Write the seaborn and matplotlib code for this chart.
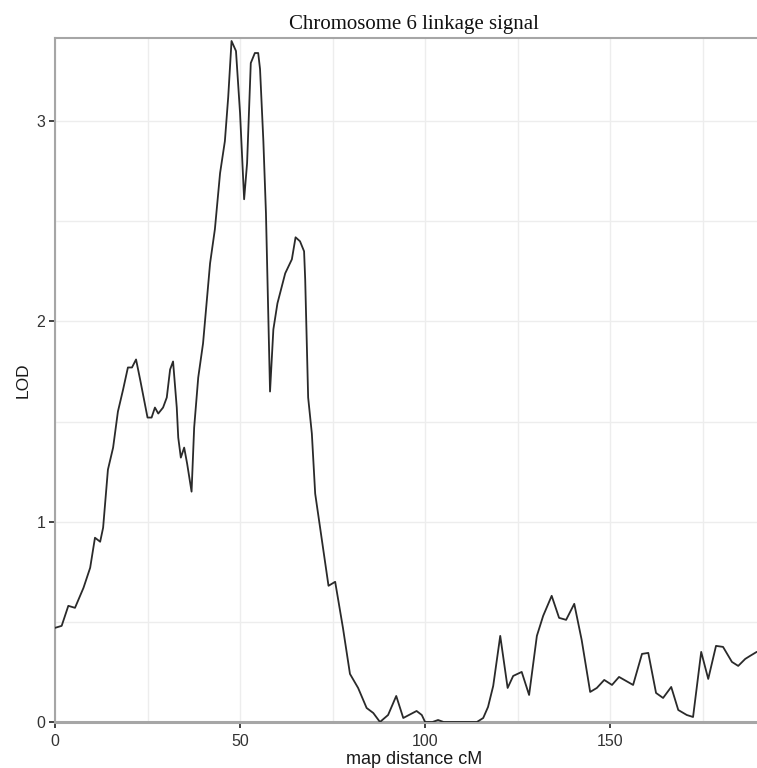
import numpy as np
import pandas as pd
import matplotlib
matplotlib.use("Agg")
import matplotlib.pyplot as plt
from matplotlib.ticker import MultipleLocator
import seaborn as sns

# LOD profile, position in cM
pos = [0, 1.8, 3.6, 5.4, 7.7, 9.5, 10.8, 12.2, 13.0, 14.3,
       15.7, 17.0, 18.4, 19.7, 20.8, 21.9, 23.0, 25.0, 26.1, 27.0,
       27.9, 29.2, 30.2, 31.1, 31.9, 32.9, 33.3, 34.0, 34.9, 35.7,
       36.9, 37.6, 38.7, 40.0, 41.9, 43.2, 44.6, 45.9, 46.8, 47.7,
       48.9, 50.0, 51.1, 51.9, 52.9, 54.0, 54.9, 55.4, 56.3, 57.0,
       58.1, 59.0, 60.1, 62.2, 64.0, 65.0, 66.2, 67.3, 67.6, 68.4,
       69.4, 70.3, 72.1, 73.9, 75.7, 77.8, 79.7, 81.9, 84.2, 86.0,
       87.8, 90.0, 92.2, 94.1, 97.7, 99.1, 100.0, 102.0, 103.5, 105.0,
       114.0, 115.7, 117.0, 118.4, 120.3, 122.3, 123.8, 126.1, 128.1, 130.2,
       131.9, 134.2, 136.2, 138.1, 140.3, 142.3, 144.6, 146.4, 148.4, 150.5,
       152.4, 156.2, 158.6, 160.3, 162.4, 164.3, 166.5, 168.4, 170.7, 172.4,
       174.6, 176.5, 178.6, 180.5, 182.9, 184.6, 186.5, 187.8, 189.6]
lod = [0.47, 0.48, 0.58, 0.57, 0.67, 0.77, 0.92, 0.90, 0.97, 1.26,
       1.37, 1.55, 1.66, 1.77, 1.77, 1.81, 1.71, 1.52, 1.52, 1.57,
       1.54, 1.57, 1.62, 1.76, 1.80, 1.57, 1.42, 1.32, 1.37, 1.29,
       1.15, 1.47, 1.72, 1.89, 2.29, 2.46, 2.74, 2.90, 3.12, 3.40,
       3.35, 3.04, 2.61, 2.79, 3.29, 3.34, 3.34, 3.26, 2.90, 2.54,
       1.65, 1.96, 2.09, 2.24, 2.31, 2.42, 2.40, 2.35, 2.21, 1.62,
       1.44, 1.14, 0.91, 0.68, 0.70, 0.47, 0.24, 0.17, 0.07, 0.045,
       0.0, 0.035, 0.13, 0.02, 0.055, 0.035, 0.0, 0.0, 0.01, 0.0,
       0.0, 0.02, 0.075, 0.18, 0.43, 0.17, 0.23, 0.25, 0.135, 0.43,
       0.53, 0.63, 0.52, 0.51, 0.59, 0.41, 0.15, 0.17, 0.21, 0.185,
       0.225, 0.185, 0.34, 0.345, 0.145, 0.12, 0.175, 0.06, 0.035, 0.025,
       0.35, 0.215, 0.38, 0.375, 0.30, 0.28, 0.315, 0.33, 0.35]

xticks = [0, 50, 100, 150]
yticks = [0, 1, 2, 3]

df = pd.DataFrame({"pos": pos, "lod": lod})

sns.set_style("white")
plt.rcParams['font.family'] = ['Liberation Sans', 'DejaVu Sans']

fig = plt.figure(figsize=(7.57, 7.68), dpi=100)
# panel runs a bit past the right edge, like the cropped original
ax = fig.add_axes([55/757, 1 - 722/768, 718/757, 684/768])

sns.lineplot(data=df, x="pos", y="lod", ax=ax, color="#2a2a2a",
             linewidth=1.3, estimator=None, sort=False, zorder=3)

ax.set_xlim(0, 194)
ax.set_ylim(0, 3.415)
ax.set_xticks(xticks)
ax.set_yticks(yticks)
ax.xaxis.set_minor_locator(MultipleLocator(25))
ax.yaxis.set_minor_locator(MultipleLocator(0.5))
ax.grid(True, which="both", color="#ededed", linewidth=1.0, zorder=0)
ax.set_axisbelow(True)

for side, sp in ax.spines.items():
    sp.set_color("#a6a6a6")
    sp.set_linewidth(1.5)
ax.spines["bottom"].set_linewidth(2.2)

ax.tick_params(axis="both", which="major", direction="out", length=4, width=1.3,
               color="#333333", labelcolor="#333333", labelsize=11.5,
               bottom=True, left=True)
ax.tick_params(axis="x", which="major", pad=5)
ax.tick_params(axis="y", which="major", pad=3)
ax.tick_params(axis="both", which="minor", length=0)

ax.set_xlabel("map distance cM", fontsize=13, color="#1a1a1a")
ax.set_ylabel("LOD", fontsize=12.5, color="#1a1a1a")
ax.xaxis.set_label_coords(0.5, -0.042)
ax.yaxis.set_label_coords(-0.034, 0.5)

fig.text(414/757, 1 - 25/768, "Chromosome 6 linkage signal",
         ha="center", va="center", fontsize=15, family="Liberation Serif",
         color="#111111")

fig.savefig("out.png", dpi=100)
